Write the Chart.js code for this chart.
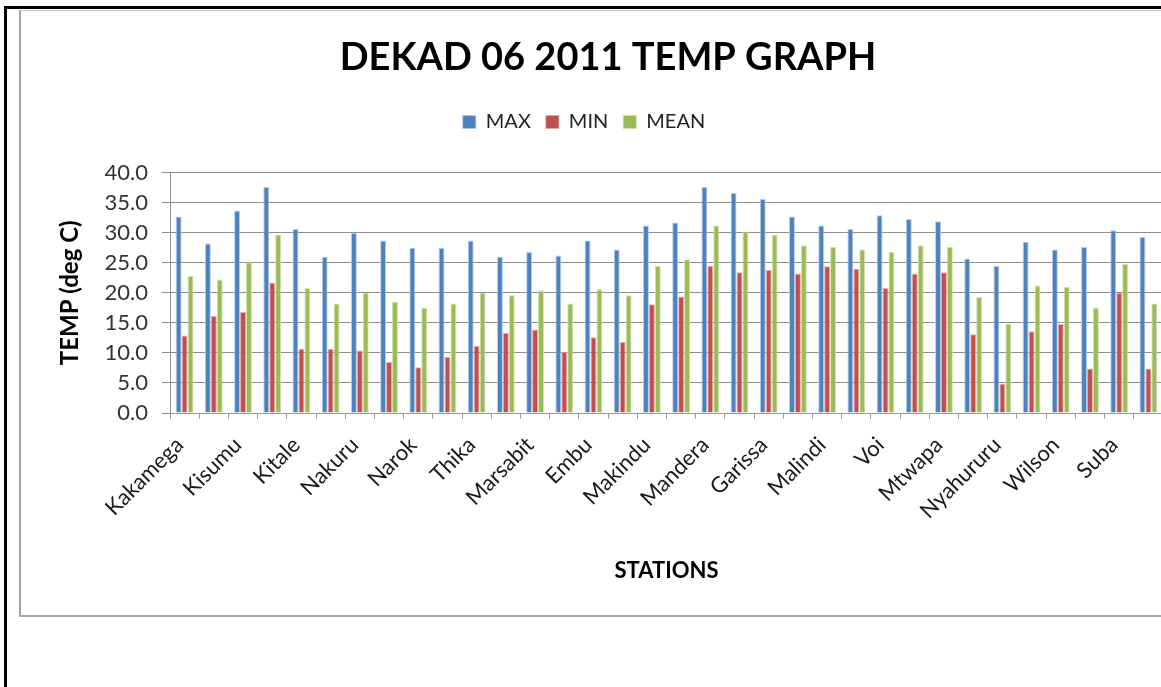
<!DOCTYPE html>
<html>
<head>
<meta charset="utf-8">
<script src="https://cdn.jsdelivr.net/npm/chart.js@4/dist/chart.umd.min.js"></script>
<style>
  html, body { margin: 0; padding: 0; background: #fff; overflow: hidden; width: 1161px; height: 687px; }
  #frameTop { position: absolute; left: 4px; top: 6px; width: 1200px; height: 3px; background: #000; }
  #frameLeft { position: absolute; left: 4px; top: 6px; width: 3px; height: 700px; background: #000; }
  #box { position: absolute; left: 19px; top: 10px; width: 1200px; height: 604px;
         border-left: 2px solid #a3a3a3; border-top: 1px solid #c8c8c8; border-bottom: 2px solid #a8a8a8; }
  #c { position: absolute; left: 21px; top: 11px; }
</style>
</head>
<body>
<div id="frameTop"></div>
<div id="frameLeft"></div>
<div id="box"></div>
<canvas id="c" width="1180" height="602"></canvas>
<script>
// stations (only every second name is shown on the axis)
const stations = ['Kakamega','','Kisumu','','Kitale','','Nakuru','','Narok','','Thika','',
  'Marsabit','','Embu','','Makindu','','Mandera','','Garissa','','Malindi','','Voi','',
  'Mtwapa','','Nyahururu','','Wilson','','Suba',''];

const maxT  = [32.7,28.2,33.7,37.6,30.6,26.0,30.0,28.7,27.5,27.5,28.7,26.0,26.8,26.2,28.7,27.2,31.2,
               31.7,37.6,36.6,35.6,32.7,31.2,30.6,32.9,32.3,31.9,25.7,24.5,28.5,27.2,27.6,30.4,29.3];
const minT  = [12.9,16.2,16.8,21.7,10.7,10.7,10.4,8.5,7.6,9.3,11.2,13.3,13.9,10.2,12.6,11.8,18.1,
               19.4,24.5,23.4,23.8,23.2,24.4,24.0,20.8,23.2,23.4,13.1,4.9,13.6,14.8,7.4,20.0,7.4];
const meanT = [22.8,22.2,25.1,29.7,20.8,18.2,20.0,18.5,17.5,18.2,20.0,19.6,20.4,18.2,20.6,19.6,24.5,
               25.6,31.2,30.2,29.7,27.9,27.6,27.2,26.8,27.9,27.6,19.3,14.8,21.2,21.0,17.5,24.8,18.2];

const seriesNames = ['MAX', 'MIN', 'MEAN'];
const yTicks = [0, 5, 10, 15, 20, 25, 30, 35, 40];

const FONT = 'Lato, "Open Sans", sans-serif';
const cols = ['#4f81bd', '#c0504d', '#9bbb59'];
const edges = ['rgba(170,200,235,0.9)', 'rgba(230,160,158,0.9)', 'rgba(200,225,160,0.9)'];

const LEGEND_TOP = 86;
// move title / legend to where the original had them (page coords minus canvas offset),
// and nudge the slanted station names a little to the left
const placeBoxes = {
  id: 'placeBoxes',
  afterLayout(chart) {
    const t = chart.titleBlock, l = chart.legend;
    if (t) { const dx = (608 - 21) - (t.left + t.right) / 2; t.left += dx; t.right += dx; }
    if (l) {
      const dx = (584 - 21) - (l.left + l.right) / 2; l.left += dx; l.right += dx;
      const h = l.bottom - l.top; l.top = LEGEND_TOP; l.bottom = l.top + h;
    }
    const xs = chart.scales.x;
    xs.getLabelItems().forEach(it => { it.options.translation[0] -= 5; });
  }
};

const mkSet = (i, data) => ({
  label: seriesNames[i], data,
  backgroundColor: cols[i], borderColor: edges[i], borderWidth: { top: 1, left: 1, right: 1, bottom: 0 },
  categoryPercentage: 0.61, barPercentage: 1.0
});

new Chart(document.getElementById('c'), {
  type: 'bar',
  data: { labels: stations, datasets: [mkSet(0, maxT), mkSet(1, minT), mkSet(2, meanT)] },
  plugins: [placeBoxes],
  options: {
    responsive: false,
    animation: false,
    layout: { padding: { left: 0, right: 38, top: 0, bottom: 29 } },
    plugins: {
      title: { display: true, text: 'DEKAD 06 2011 TEMP GRAPH', color: '#000',
               font: { family: FONT, size: 38, weight: 'bold' }, padding: { top: 24, bottom: 47 } },
      legend: {
        labels: { color: '#222', font: { family: FONT, size: 20 }, boxWidth: 13, boxHeight: 13, padding: 15 }
      },
      tooltip: { enabled: false }
    },
    scales: {
      x: {
        afterFit: s => { s.height = 171; },
        grid: { offset: true, drawOnChartArea: false, drawTicks: true, tickLength: 6, color: '#9a9a9a' },
        border: { display: true, color: '#9a9a9a' },
        ticks: { autoSkip: false, maxRotation: 45, minRotation: 45, padding: 13, color: '#1a1a1a',
                 font: { family: FONT, size: 22 } },
        title: { display: true, text: 'STATIONS', color: '#000', padding: { top: 0, bottom: 0 },
                 font: { family: FONT, size: 22, weight: 'bold' } }
      },
      y: {
        min: 0, max: 40,
        afterFit: s => { s.width = 149; },
        afterBuildTicks: s => { s.ticks = yTicks.map(v => ({ value: v })); },
        grid: { color: '#8e8e8e', tickLength: 8 },
        border: { display: true, color: '#8e8e8e' },
        ticks: { padding: 14, color: '#333', font: { family: FONT, size: 22 }, callback: v => v.toFixed(1) },
        title: { display: true, text: 'TEMP (deg C)', color: '#000', padding: { top: 35, bottom: 0 },
                 font: { family: FONT, size: 24, weight: 'bold' } }
      }
    }
  }
});
</script>
</body>
</html>
